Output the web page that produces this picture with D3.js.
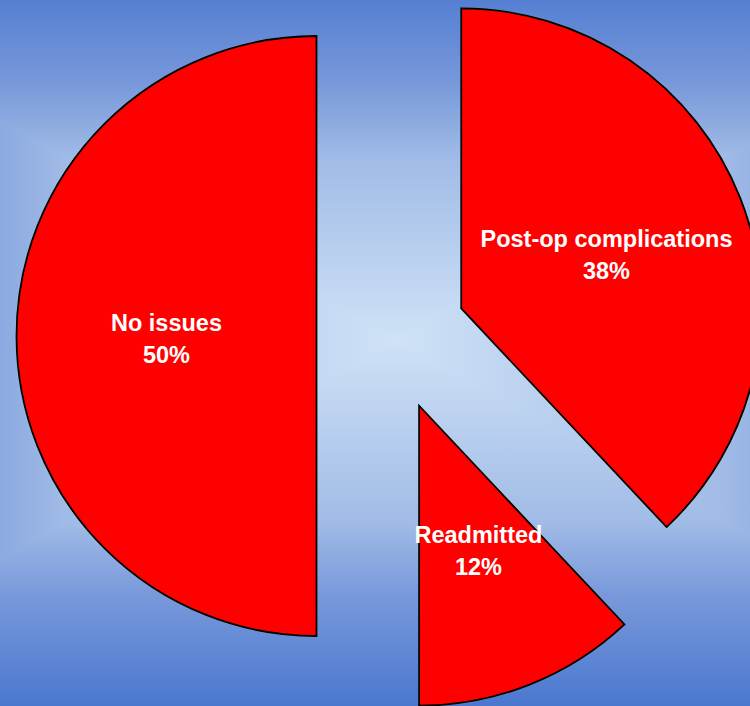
<!DOCTYPE html>
<html lang="en">
<head>
<meta charset="utf-8">
<title>outcomes pie</title>
<script src="https://cdn.jsdelivr.net/npm/d3@7"></script>
<style>
  body{
    margin:0;
    padding:0;
    overflow:hidden;
    background:#cde0f5;
  }
  #chart{
    position:absolute;
    top:0px;
    left:0px;
  }
  .lbl{
    font-family:"Liberation Sans", Arial, Helvetica, sans-serif;
    font-weight:bold;
    font-size:23.5px;
    fill:#fff;
  }
</style>
</head>
<body>
<div id="chart"></div>
<script>

  // slices, clockwise from 12 o'clock
  var categories = ["Post-op complications", "Readmitted", "No issues"]
  var values = [38, 12, 50]
  var pctLabels = ["38%", "12%", "50%"]

  var w = 750
  var h = 706
  var cx = 391.5
  var cy = 336
  var radius = 300
  var explode = 75

  var svg = d3.select("#chart").append("svg").attr("width", w).attr("height", h)
  var defs = svg.append("defs")

  // background: rectangular path gradient, light in the middle
  var gx = 395, gy = 340, ga = 658, gb = 366
  var bgStops = [
    [0, "#4a78cf"], [0.15, "#7898da"], [0.25, "#a0bbe6"], [0.5, "#cfe2f6"],
    [0.75, "#a0bbe6"], [0.85, "#7898da"], [1, "#4a78cf"]
  ]
  function addGrad(id, x1, y1, x2, y2){
    var g = defs.append("linearGradient").attr("id", id)
      .attr("gradientUnits", "userSpaceOnUse")
      .attr("x1", x1).attr("y1", y1).attr("x2", x2).attr("y2", y2)
    g.selectAll("stop").data(bgStops).enter().append("stop")
      .attr("offset", function(d){ return d[0] })
      .attr("stop-color", function(d){ return d[1] })
  }
  addGrad("vgrad", 0, gy - gb, 0, gy + gb)
  addGrad("hgrad", gx - ga, 0, gx + ga, 0)

  svg.append("rect").attr("width", w).attr("height", h).attr("fill", "url(#vgrad)")

  var k = gb / ga
  var yl = (gx - 0) * k, yr = (w - gx) * k
  svg.append("polygon")
    .attr("points", [[0, gy - yl], [gx, gy], [0, gy + yl]].join(" "))
    .attr("fill", "url(#hgrad)")
  svg.append("polygon")
    .attr("points", [[w, gy - yr], [gx, gy], [w, gy + yr]].join(" "))
    .attr("fill", "url(#hgrad)")

  // pie
  var pie = d3.pie().sort(null).value(function(d){ return d })
  var arcs = pie(values)
  var arc = d3.arc().innerRadius(0).outerRadius(radius)

  function offset(d){
    var mid = (d.startAngle + d.endAngle) / 2
    return [Math.sin(mid) * explode, -Math.cos(mid) * explode]
  }

  var slices = svg.selectAll(".slice")
    .data(arcs)
    .enter()
    .append("g")
    .attr("class", "slice")
    .attr("transform", function(d){
      var o = offset(d)
      return "translate(" + (cx + o[0]) + "," + (cy + o[1]) + ")"
    })

  slices.append("path")
    .attr("d", arc)
    .attr("fill", "#ff0000")
    .attr("stroke", "#000")
    .attr("stroke-width", 1.8)
    .attr("stroke-linejoin", "miter")

  var labelArc = d3.arc().innerRadius(0).outerRadius(radius * 1.02)

  var txt = slices.append("text")
    .attr("class", "lbl")
    .attr("text-anchor", "middle")
    .attr("transform", function(d){
      var c = labelArc.centroid(d)
      return "translate(" + (c[0] + 3) + "," + c[1] + ")"
    })
  txt.append("tspan")
    .attr("x", 0).attr("y", -4.75)
    .text(function(d, i){ return categories[i] })
  txt.append("tspan")
    .attr("x", 0).attr("y", 26.75)
    .text(function(d, i){ return pctLabels[i] })

</script>
</body>
</html>
